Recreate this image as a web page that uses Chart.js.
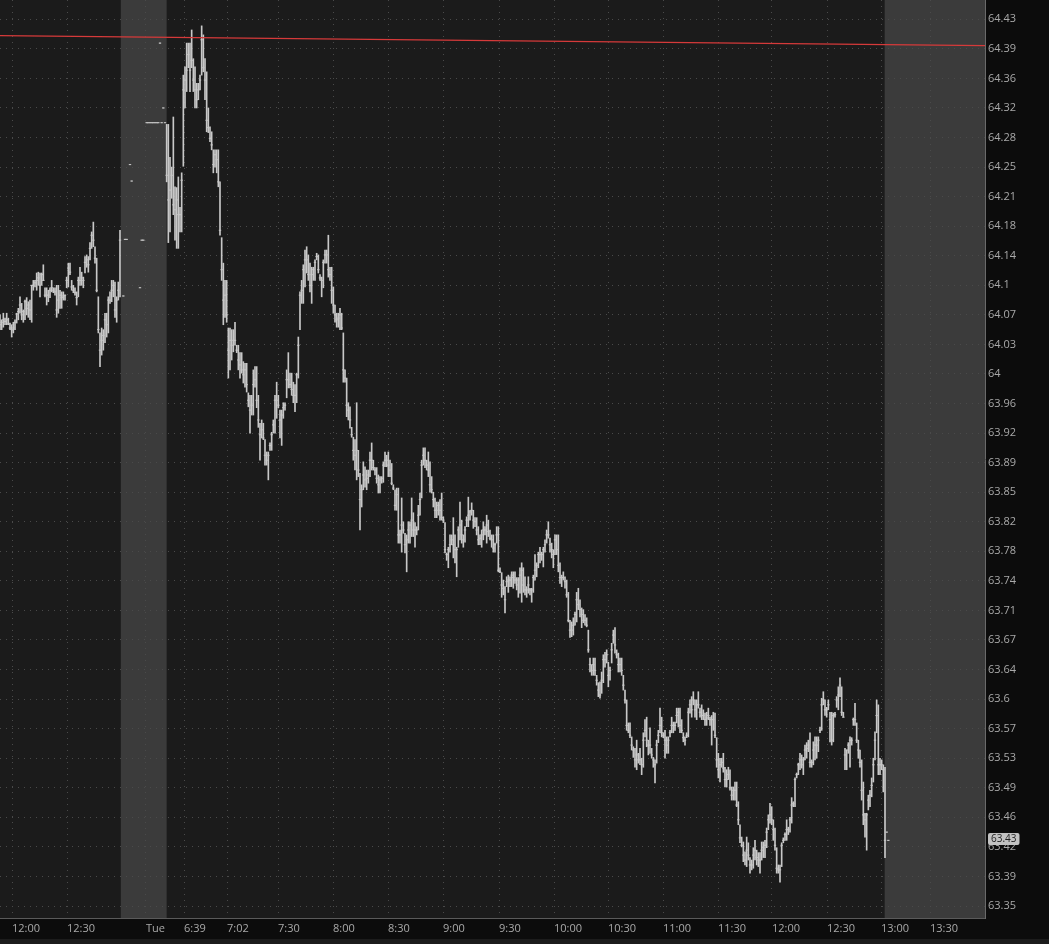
<!DOCTYPE html>
<html>
<head>
<meta charset="utf-8">
<script src="https://cdn.jsdelivr.net/npm/chart.js@4.4.0/dist/chart.umd.min.js"></script>
<style>
  html, body { margin: 0; padding: 0; background: #0c0c0c; overflow: hidden; }
  canvas { display: block; }
</style>
</head>
<body>
<canvas id="chart" width="1049" height="944"></canvas>
<script>
// ---- 1 min bars ----

// monday, last hour of the session
const mondayHi = [
  64.070,64.064,64.072,64.066,64.072,64.066,64.060,64.058,64.061,64.064,
  64.072,64.078,64.092,64.084,64.076,64.088,64.091,64.086,64.088,64.106,
  64.112,64.112,64.121,64.122,64.121,64.121,64.131,64.103,64.103,64.100,
  64.103,64.112,64.103,64.103,64.106,64.106,64.100,64.098,64.098,64.094,
  64.116,64.133,64.133,64.112,64.106,64.103,64.098,64.116,64.128,64.122,
  64.116,64.141,64.143,64.141,64.158,64.171,64.183,64.153,64.139,64.092,
  64.048,64.054,64.052,64.072,64.072,64.092,64.098,64.112,64.112,64.110,
  64.092,64.110,64.173];
const mondayLo = [
  64.052,64.052,64.055,64.058,64.058,64.058,64.052,64.043,64.048,64.052,
  64.060,64.064,64.072,64.064,64.061,64.064,64.070,64.067,64.064,64.061,
  64.100,64.104,64.100,64.106,64.092,64.106,64.112,64.092,64.082,64.086,
  64.091,64.098,64.097,64.094,64.067,64.072,64.078,64.078,64.088,64.088,
  64.103,64.104,64.119,64.100,64.097,64.094,64.082,64.092,64.106,64.106,
  64.103,64.121,64.128,64.122,64.137,64.151,64.153,64.133,64.098,64.048,
  64.007,64.021,64.027,64.036,64.043,64.048,64.084,64.086,64.092,64.067,
  64.061,64.088,64.092];
const mondayClose = [
  64.058,64.061,64.064,64.062,64.064,64.059,64.054,64.052,64.054,64.061,
  64.071,64.074,64.082,64.070,64.074,64.086,64.078,64.082,64.076,64.106,
  64.106,64.109,64.112,64.115,64.106,64.119,64.112,64.094,64.094,64.094,
  64.100,64.103,64.100,64.098,64.076,64.088,64.094,64.091,64.093,64.094,
  64.112,64.127,64.122,64.104,64.100,64.097,64.091,64.112,64.112,64.115,
  64.112,64.134,64.137,64.131,64.151,64.167,64.161,64.139,64.100,64.052,
  64.027,64.039,64.045,64.064,64.058,64.088,64.088,64.100,64.106,64.076,
  64.088,64.100,64.161];

// extended hours, single prints (null = no trade)
const extPrice = [null,64.093,64.162,64.162,null,64.253,64.233,null,null,null,
  null,64.103,64.161,64.161,null,64.304,64.304,64.304,64.304,64.304,
  64.304,64.304,64.304,64.401,64.304,64.322,64.304];

// tuesday regular session
const tuesdayHi = [
  64.302,64.302,64.262,64.250,64.311,64.226,64.225,64.238,64.201,64.243,
  64.362,64.372,64.401,64.401,64.401,64.417,64.382,64.372,64.352,64.352,
  64.362,64.422,64.411,64.382,64.366,64.322,64.299,64.293,64.271,64.271,
  64.271,64.271,64.232,64.164,64.133,64.112,64.112,64.054,64.054,64.052,
  64.052,64.061,64.033,64.033,64.024,64.024,64.013,64.011,64.011,63.975,
  63.972,63.972,64.003,64.007,64.007,63.972,63.938,63.942,63.938,63.918,
  63.903,63.903,63.914,63.927,63.942,63.972,63.988,63.972,63.954,63.954,
  63.963,63.963,64.003,64.024,63.999,63.999,63.988,63.985,63.999,64.043,
  64.098,64.112,64.131,64.149,64.153,64.143,64.133,64.128,64.128,64.137,
  64.145,64.143,64.119,64.116,64.137,64.149,64.149,64.167,64.128,64.128,
  64.104,64.082,64.072,64.072,64.078,64.072,64.048,64.003,63.993,63.963,
  63.958,63.933,63.921,63.918,63.963,63.905,63.877,63.863,63.891,63.885,
  63.881,63.881,63.903,63.914,63.893,63.884,63.884,63.875,63.873,63.873,
  63.891,63.903,63.899,63.903,63.893,63.889,63.863,63.857,63.859,63.859,
  63.808,63.847,63.818,63.804,63.802,63.818,63.818,63.847,63.829,63.817,
  63.812,63.838,63.853,63.893,63.908,63.908,63.893,63.903,63.891,63.873,
  63.854,63.847,63.842,63.842,63.845,63.853,63.824,63.817,63.780,63.787,
  63.802,63.802,63.823,63.802,63.787,63.812,63.842,63.820,63.802,63.812,
  63.824,63.848,63.832,63.841,63.832,63.823,63.823,63.812,63.802,63.808,
  63.818,63.812,63.826,63.820,63.808,63.802,63.802,63.792,63.812,63.812,
  63.762,63.756,63.747,63.739,63.751,63.753,63.751,63.757,63.757,63.757,
  63.750,63.750,63.762,63.768,63.762,63.751,63.739,63.751,63.737,63.737,
  63.753,63.778,63.768,63.781,63.787,63.781,63.787,63.796,63.808,63.818,
  63.798,63.792,63.784,63.802,63.802,63.802,63.768,63.753,63.757,63.751,
  63.747,63.732,63.698,63.696,63.701,63.708,63.732,63.737,63.723,63.713,
  63.711,63.705,63.701,63.686,63.652,63.644,63.652,63.652,63.631,63.622,
  63.623,63.635,63.656,63.659,63.662,63.647,63.641,63.670,63.686,63.689,
  63.662,63.658,63.652,63.652,63.631,63.613,63.601,63.573,63.573,63.556,
  63.544,63.542,63.552,63.536,63.542,63.530,63.561,63.577,63.580,63.552,
  63.567,63.542,63.531,63.528,63.552,63.564,63.591,63.580,63.561,63.564,
  63.556,63.556,63.564,63.580,63.574,63.574,63.591,63.591,63.591,63.577,
  63.561,63.556,63.561,63.591,63.601,63.605,63.611,63.601,63.601,63.611,
  63.591,63.595,63.589,63.585,63.586,63.591,63.580,63.582,63.586,63.585,
  63.555,63.536,63.530,63.530,63.536,63.519,63.516,63.519,63.516,63.495,
  63.495,63.501,63.501,63.477,63.449,63.434,63.428,63.416,63.434,63.427,
  63.409,63.406,63.421,63.430,63.418,63.415,63.415,63.428,63.428,63.430,
  63.445,63.461,63.475,63.471,63.455,63.445,63.421,63.400,63.400,63.427,
  63.433,63.439,63.455,63.446,63.458,63.482,63.477,63.506,63.512,63.524,
  63.536,63.534,63.531,63.546,63.549,63.552,63.561,63.528,63.550,63.556,
  63.556,63.556,63.568,63.603,63.611,63.601,63.592,63.601,63.586,63.586,
  63.585,63.586,63.605,63.617,63.628,63.617,63.586,63.542,63.540,63.549,
  63.556,63.555,63.579,63.597,63.573,63.552,63.540,63.528,63.501,63.463,
  63.463,63.485,63.491,63.506,63.530,63.562,63.601,63.595,63.530,63.528,
  63.522,63.519];
const tuesdayLo = [
  64.232,64.158,64.171,64.212,64.192,64.161,64.151,64.151,64.171,64.171,
  64.251,64.322,64.342,64.371,64.342,64.371,64.342,64.322,64.322,64.332,
  64.344,64.362,64.366,64.332,64.293,64.292,64.281,64.271,64.243,64.250,
  64.243,64.226,64.167,64.112,64.058,64.067,64.061,63.993,64.003,64.015,
  64.025,64.033,64.024,64.003,63.993,63.999,63.987,63.982,63.976,63.958,
  63.926,63.948,63.948,63.982,63.957,63.933,63.893,63.920,63.918,63.887,
  63.887,63.869,63.905,63.905,63.926,63.926,63.944,63.957,63.920,63.911,
  63.944,63.954,63.969,63.981,63.981,63.972,63.963,63.952,63.963,63.993,
  64.052,64.084,64.084,64.104,64.121,64.112,64.098,64.084,64.112,64.112,
  64.137,64.121,64.112,64.092,64.103,64.133,64.133,64.116,64.112,64.084,
  64.072,64.061,64.055,64.055,64.052,64.052,63.988,63.988,63.946,63.942,
  63.932,63.921,63.893,63.881,63.869,63.873,63.808,63.836,63.857,63.860,
  63.857,63.865,63.873,63.881,63.881,63.875,63.865,63.853,63.853,63.865,
  63.866,63.885,63.885,63.873,63.873,63.863,63.857,63.832,63.832,63.792,
  63.792,63.781,63.804,63.780,63.757,63.792,63.792,63.800,63.800,63.787,
  63.802,63.808,63.826,63.847,63.887,63.884,63.881,63.873,63.854,63.853,
  63.836,63.823,63.823,63.826,63.820,63.820,63.817,63.780,63.771,63.762,
  63.781,63.790,63.774,63.768,63.751,63.787,63.796,63.792,63.787,63.793,
  63.812,63.812,63.820,63.826,63.810,63.812,63.802,63.790,63.790,63.787,
  63.796,63.802,63.792,63.800,63.796,63.787,63.781,63.781,63.792,63.757,
  63.756,63.726,63.729,63.707,63.739,63.732,63.739,63.739,63.737,63.743,
  63.735,63.726,63.731,63.720,63.732,63.729,63.726,63.731,63.729,63.720,
  63.732,63.747,63.751,63.762,63.768,63.771,63.763,63.781,63.792,63.798,
  63.781,63.774,63.762,63.778,63.778,63.757,63.743,63.739,63.747,63.737,
  63.726,63.696,63.677,63.678,63.680,63.692,63.696,63.711,63.702,63.689,
  63.695,63.692,63.690,63.659,63.635,63.631,63.631,63.631,63.619,63.605,
  63.603,63.609,63.622,63.641,63.646,63.617,63.625,63.646,63.670,63.658,
  63.652,63.635,63.635,63.631,63.613,63.597,63.564,63.561,63.555,63.540,
  63.531,63.519,63.516,63.524,63.522,63.510,63.519,63.556,63.544,63.534,
  63.536,63.530,63.519,63.500,63.524,63.549,63.561,63.556,63.555,63.530,
  63.536,63.536,63.556,63.561,63.561,63.564,63.573,63.568,63.561,63.561,
  63.550,63.546,63.555,63.556,63.585,63.580,63.595,63.580,63.577,63.591,
  63.580,63.577,63.577,63.570,63.570,63.577,63.570,63.546,63.564,63.555,
  63.519,63.506,63.501,63.519,63.513,63.495,63.495,63.504,63.491,63.479,
  63.479,63.479,63.471,63.449,63.427,63.422,63.404,63.400,63.398,63.406,
  63.390,63.394,63.396,63.406,63.400,63.398,63.390,63.406,63.409,63.409,
  63.421,63.443,63.451,63.449,63.430,63.418,63.390,63.390,63.379,63.398,
  63.427,63.430,63.430,63.437,63.440,63.451,63.471,63.471,63.506,63.510,
  63.516,63.518,63.510,63.528,63.530,63.538,63.519,63.519,63.522,63.528,
  63.530,63.538,63.561,63.564,63.595,63.582,63.580,63.589,63.550,63.546,
  63.550,63.580,63.592,63.589,63.605,63.582,63.580,63.516,63.516,63.536,
  63.519,63.546,63.570,63.570,63.549,63.530,63.519,63.479,63.449,63.434,
  63.418,63.467,63.471,63.483,63.501,63.528,63.561,63.510,63.510,63.516,
  63.489,63.409];
const tuesdayClose = [
  64.240,64.210,64.222,64.240,64.204,64.198,64.210,64.192,64.192,64.234,
  64.344,64.356,64.368,64.387,64.368,64.380,64.356,64.344,64.332,64.344,
  64.356,64.405,64.371,64.356,64.307,64.298,64.285,64.277,64.253,64.265,
  64.259,64.232,64.173,64.125,64.088,64.094,64.070,64.027,64.039,64.033,
  64.039,64.039,64.027,64.015,64.009,64.003,63.997,64.003,63.985,63.966,
  63.954,63.960,63.985,63.991,63.966,63.942,63.924,63.930,63.920,63.899,
  63.893,63.899,63.911,63.924,63.936,63.966,63.966,63.960,63.942,63.948,
  63.957,63.960,63.991,63.991,63.985,63.979,63.972,63.972,63.997,64.033,
  64.094,64.100,64.125,64.137,64.137,64.119,64.106,64.119,64.125,64.134,
  64.141,64.125,64.115,64.112,64.134,64.143,64.143,64.125,64.119,64.100,
  64.082,64.070,64.064,64.066,64.070,64.054,64.003,63.993,63.960,63.954,
  63.942,63.924,63.905,63.899,63.905,63.881,63.845,63.857,63.875,63.869,
  63.871,63.875,63.893,63.893,63.884,63.881,63.871,63.863,63.869,63.871,
  63.887,63.893,63.893,63.887,63.881,63.865,63.859,63.838,63.851,63.802,
  63.802,63.814,63.808,63.790,63.796,63.808,63.814,63.820,63.808,63.808,
  63.808,63.826,63.845,63.887,63.899,63.893,63.887,63.881,63.863,63.857,
  63.845,63.832,63.832,63.838,63.832,63.823,63.820,63.784,63.778,63.784,
  63.790,63.796,63.790,63.784,63.784,63.808,63.814,63.802,63.796,63.808,
  63.820,63.826,63.830,63.832,63.820,63.818,63.808,63.796,63.798,63.802,
  63.808,63.808,63.814,63.806,63.798,63.796,63.786,63.790,63.802,63.759,
  63.757,63.741,63.737,63.723,63.745,63.747,63.747,63.753,63.750,63.747,
  63.741,63.747,63.753,63.759,63.741,63.735,63.735,63.741,63.735,63.735,
  63.750,63.759,63.765,63.778,63.778,63.778,63.784,63.790,63.802,63.802,
  63.790,63.784,63.778,63.796,63.784,63.765,63.750,63.750,63.750,63.745,
  63.729,63.698,63.686,63.686,63.692,63.705,63.723,63.717,63.711,63.705,
  63.698,63.698,63.692,63.662,63.644,63.637,63.644,63.637,63.625,63.613,
  63.607,63.625,63.650,63.650,63.656,63.631,63.637,63.662,63.680,63.668,
  63.656,63.644,63.644,63.637,63.619,63.601,63.570,63.564,63.558,63.546,
  63.540,63.528,63.534,63.528,63.528,63.522,63.552,63.564,63.552,63.546,
  63.546,63.534,63.528,63.522,63.546,63.558,63.570,63.561,63.558,63.552,
  63.546,63.552,63.561,63.570,63.570,63.570,63.582,63.586,63.570,63.564,
  63.555,63.552,63.558,63.586,63.595,63.589,63.601,63.589,63.595,63.595,
  63.586,63.582,63.582,63.577,63.579,63.582,63.577,63.577,63.577,63.558,
  63.528,63.516,63.522,63.525,63.518,63.504,63.504,63.510,63.494,63.485,
  63.491,63.491,63.473,63.455,63.433,63.424,63.412,63.406,63.418,63.412,
  63.400,63.400,63.412,63.418,63.409,63.406,63.406,63.418,63.421,63.424,
  63.440,63.455,63.461,63.455,63.443,63.424,63.396,63.394,63.394,63.424,
  63.430,63.437,63.443,63.443,63.455,63.473,63.475,63.504,63.510,63.522,
  63.528,63.522,63.528,63.540,63.542,63.546,63.525,63.525,63.540,63.546,
  63.546,63.552,63.564,63.595,63.601,63.589,63.589,63.595,63.577,63.552,
  63.582,63.583,63.601,63.607,63.619,63.586,63.580,63.534,63.540,63.546,
  63.552,63.552,63.577,63.577,63.552,63.540,63.525,63.491,63.461,63.455,
  63.461,63.479,63.485,63.497,63.522,63.552,63.582,63.522,63.522,63.522,
  63.516,63.430];

// after the close
const postPrice = [63.440, 63.430];

// first bar index of each block
const segStart = { monday: 0, ext: 73, tuesday: 100, post: 532 };

// red line, price at left and right edge
const redLine = [64.410, 64.398];
const lastPrice = 63.432;
const lastLabel = '63.43';

// shaded extended hours (bar index ranges)
const extSessions = [[72.5, 100], [530.8, 591]];

// axes
const xTickIdx = [7.2, 40.2, 87.6, 110.4, 136.2, 166.8, 199.8, 232.8, 265.8, 299.4,
  332.4, 364.8, 397.8, 430.8, 463.2, 496.2, 528.6, 558];
const xTickLabels = ['12:00','12:30','Tue','6:39','7:02','7:30','8:00','8:30','9:00','9:30',
  '10:00','10:30','11:00','11:30','12:00','12:30','13:00','13:30'];
const yTickLabels = ['64.43','64.39','64.36','64.32','64.28','64.25','64.21','64.18','64.14','64.1',
  '64.07','64.03','64','63.96','63.92','63.89','63.85','63.82','63.78','63.74',
  '63.71','63.67','63.64','63.6','63.57','63.53','63.49','63.46','63.42','63.39','63.35'];
const yTickTop = 64.43, yTickStep = 0.036;

// build points
const bars = [], closes = [];
function addBlock(start, hi, lo, cl) {
  hi.forEach((h, k) => {
    if (h == null) return;
    bars.push({ x: start + k, y: [lo[k], h] });
    closes.push({ x: start + k, y: cl[k] });
  });
}
addBlock(segStart.monday, mondayHi, mondayLo, mondayClose);
addBlock(segStart.ext, extPrice, extPrice, extPrice);
addBlock(segStart.tuesday, tuesdayHi, tuesdayLo, tuesdayClose);
addBlock(segStart.post, postPrice, postPrice, postPrice);

const font = { family: 'Open Sans', size: 11 };
const labelColor = '#a9a9a9';
const dotGrid = '#4a4a4a';

// no extra label padding around the plot
function noPad(s) {
  s.paddingLeft = 0; s.paddingRight = 0; s.paddingTop = 0; s.paddingBottom = 0;
}

const paint = {
  id: 'paint',
  beforeDraw(chart) {
    const { ctx, chartArea: a, scales: { x } } = chart;
    ctx.save();
    ctx.fillStyle = '#0c0c0c';
    ctx.fillRect(0, 0, chart.width, chart.height);
    ctx.fillStyle = '#1b1b1b';
    ctx.fillRect(a.left, a.top, a.right - a.left, a.bottom - a.top);
    ctx.fillStyle = '#3b3b3b';
    extSessions.forEach(([s, e]) => {
      const x0 = x.getPixelForValue(s);
      const x1 = Math.min(x.getPixelForValue(e), a.right);
      ctx.fillRect(x0, a.top, x1 - x0, a.bottom - a.top);
    });
    ctx.restore();
  },
  afterDraw(chart) {
    const { ctx, scales: { y } } = chart;
    const py = y.getPixelForValue(lastPrice);
    ctx.save();
    ctx.font = '10px "Open Sans"';
    const w = ctx.measureText(lastLabel).width + 6;
    ctx.fillStyle = '#c2c2c2';
    ctx.beginPath();
    ctx.roundRect(988, Math.round(py) - 6, w, 12, 2);
    ctx.fill();
    ctx.fillStyle = '#1e1e1e';
    ctx.textBaseline = 'middle';
    ctx.fillText(lastLabel, 991, Math.round(py) + 0.5);
    // toolbar strip at the very bottom
    ctx.fillStyle = '#1c1c1c';
    ctx.fillRect(0, 939, chart.width, 5);
    ctx.restore();
  }
};

new Chart(document.getElementById('chart'), {
  type: 'bar',
  data: {
    datasets: [
      {
        type: 'line',
        data: [{ x: 0, y: redLine[0] }, { x: 591, y: redLine[1] }],
        borderColor: '#d63a3a',
        borderWidth: 1.3,
        pointRadius: 0,
        order: 0
      },
      {
        type: 'line',
        data: closes,
        showLine: false,
        pointStyle: 'line',
        pointRadius: 1.2,
        borderColor: '#c8c8c8',
        borderWidth: 1,
        order: 1
      },
      {
        type: 'bar',
        data: bars,
        backgroundColor: '#c8c8c8',
        borderWidth: 0,
        barThickness: 1,
        grouped: false,
        order: 2
      }
    ]
  },
  options: {
    responsive: false,
    animation: false,
    events: [],
    layout: { padding: 0, autoPadding: false },
    plugins: { legend: { display: false }, tooltip: { enabled: false } },
    scales: {
      x: {
        type: 'linear',
        min: 0,
        max: 591,
        offset: false,
        afterFit: s => { s.height = 26; noPad(s); },
        afterBuildTicks: s => { s.ticks = xTickIdx.map(v => ({ value: v })); },
        ticks: {
          callback: (v, i) => xTickLabels[i],
          autoSkip: false,
          maxRotation: 0,
          align: 'start',
          padding: 4,
          color: labelColor,
          font
        },
        grid: { color: dotGrid, offset: false, drawTicks: false },
        border: { color: '#5a5a5a', dash: [1, 5] }
      },
      y: {
        position: 'right',
        min: 63.3354,
        max: 64.4535,
        afterFit: s => { s.width = 64; noPad(s); },
        afterBuildTicks: s => { s.ticks = yTickLabels.map((_, k) => ({ value: yTickTop - k * yTickStep })); },
        ticks: {
          callback: (v, i) => yTickLabels[i],
          autoSkip: false,
          padding: 3,
          color: labelColor,
          font
        },
        grid: { color: dotGrid, drawTicks: false },
        border: { color: '#6a6a6a', dash: [1, 5] }
      }
    }
  },
  plugins: [paint]
});
</script>
</body>
</html>
